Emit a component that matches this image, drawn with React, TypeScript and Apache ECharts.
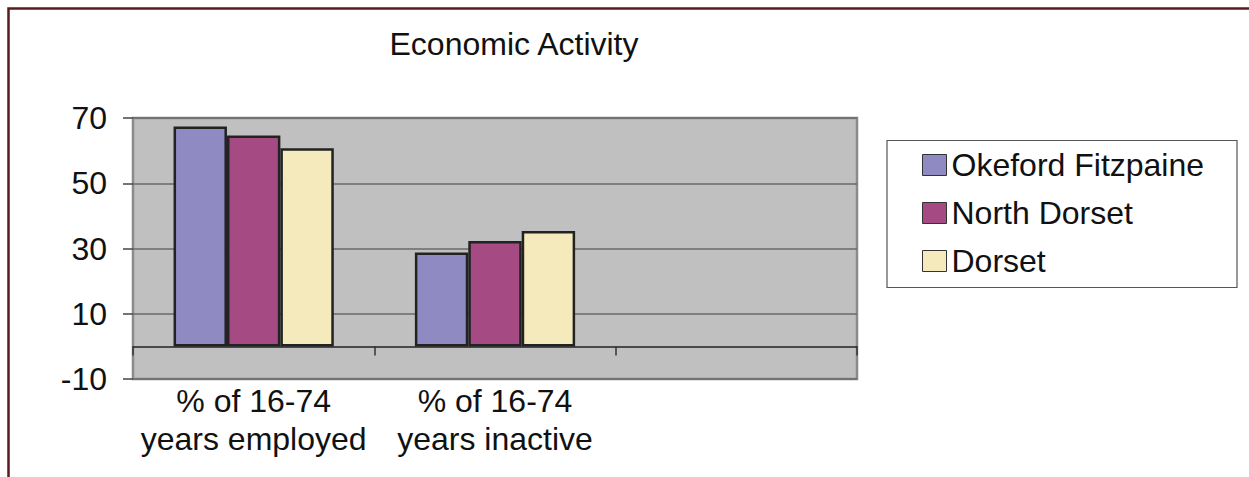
import React, { useEffect, useRef } from "react";
import * as echarts from "echarts";

const categories = ["% of 16-74\nyears employed", "% of 16-74\nyears inactive", ""];
const seriesNames = ["Okeford Fitzpaine", "North Dorset", "Dorset"];
const okefordValues = [67.4, 28.8, null];
const northDorsetValues = [64.6, 32.3, null];
const dorsetValues = [60.7, 35.4, null];
const seriesColors = ["#8f8ac2", "#a54a82", "#f5eabc"];
const yMin = -10;
const yMax = 70;
const yStep = 20;

const FONT = "'Liberation Sans', Arial, sans-serif";
const INK = "#111111";

export default function App() {
  const ref = useRef<HTMLDivElement>(null);

  useEffect(() => {
    if (!ref.current) return;
    const chart = echarts.init(ref.current, undefined, { renderer: "svg" });
    const values = [okefordValues, northDorsetValues, dorsetValues];

    chart.setOption({
      animation: false,
      textStyle: { fontFamily: FONT },
      graphic: [
        {
          type: "rect",
          z: 0,
          silent: true,
          shape: { x: 8.5, y: 8.5, width: 1400, height: 700 },
          style: { fill: "none", stroke: "#5c1a1a", lineWidth: 2.5 },
        },
        {
          type: "rect",
          z: 0,
          silent: true,
          shape: { x: 887, y: 140.5, width: 350, height: 147 },
          style: { fill: "#ffffff", stroke: "#555555", lineWidth: 1.2 },
        },
        {
          type: "text",
          z: 5,
          x: 514,
          y: 44,
          style: {
            text: "Economic Activity",
            fontFamily: FONT,
            fontSize: 32,
            fill: INK,
            textAlign: "center",
            textVerticalAlign: "middle",
          },
        },
      ],
      grid: {
        left: 133,
        top: 118,
        width: 724,
        height: 261,
        show: true,
        backgroundColor: "#c0c0c0",
        borderColor: "#8a8a8a",
        borderWidth: 2.5,
      },
      legend: {
        orient: "vertical",
        left: 922,
        top: 149,
        z: 10,
        icon: "rect",
        itemWidth: 24,
        itemHeight: 21,
        itemGap: 16,
        padding: 0,
        data: seriesNames,
        textStyle: { fontFamily: FONT, fontSize: 32, color: INK },
        itemStyle: { borderColor: "#333333", borderWidth: 1 },
      },
      xAxis: [
        {
          type: "category",
          data: categories,
          position: "bottom",
          axisLine: { show: false, onZero: false },
          axisTick: { show: false },
          splitLine: { show: false },
          axisLabel: {
            fontFamily: FONT,
            fontSize: 32,
            lineHeight: 38,
            color: INK,
            margin: 3,
            interval: 0,
          },
        },
        {
          type: "category",
          data: categories,
          position: "top",
          axisLine: {
            show: true,
            onZero: true,
            lineStyle: { color: "#222222", width: 1.5 },
          },
          axisTick: {
            show: true,
            inside: true,
            length: 9,
            lineStyle: { color: "#333333", width: 1.5 },
          },
          axisLabel: { show: false },
          splitLine: { show: false },
        },
      ],
      yAxis: {
        type: "value",
        min: yMin,
        max: yMax,
        interval: yStep,
        axisLine: { show: false },
        axisTick: {
          show: true,
          length: 10,
          lineStyle: { color: "#444444", width: 1.5 },
        },
        splitLine: { show: true, lineStyle: { color: "#6a6a6a", width: 1.5 } },
        axisLabel: {
          fontFamily: FONT,
          fontSize: 32,
          color: INK,
          margin: 26,
        },
      },
      series: seriesNames.map((name, i) => ({
        name,
        type: "bar",
        xAxisIndex: 0,
        data: values[i],
        barGap: "0%",
        barCategoryGap: "33.6%",
        itemStyle: {
          color: seriesColors[i],
          borderColor: "#222222",
          borderWidth: 2.5,
        },
      })),
    });

    return () => chart.dispose();
  }, []);

  return (
    <div
      ref={ref}
      style={{ position: "fixed", left: 0, top: 0, width: 1249, height: 477, background: "#ffffff" }}
    />
  );
}
